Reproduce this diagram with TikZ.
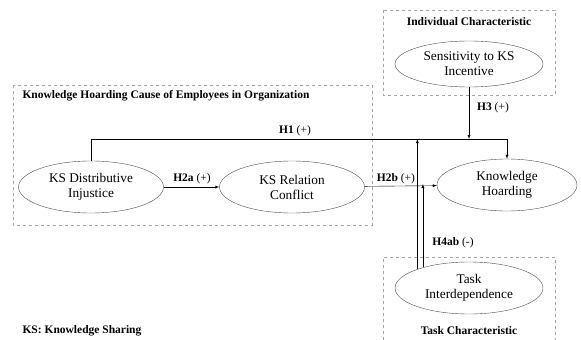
\documentclass[tikz,border=0pt]{standalone}
\usepackage{fontspec}
\setmainfont{Liberation Serif}
\usepackage{tikz}
\usetikzlibrary{shapes.geometric}

\begin{document}
\begin{tikzpicture}[x=1pt, y=-1pt, >=latex,
  construct/.style={ellipse, draw=black!70, align=center, inner sep=0pt,
    minimum width=145pt, minimum height=52pt, font=\fontsize{13.3}{15}\selectfont},
  group/.style={draw=black!35, dashed},
  grouptitle/.style={font=\fontsize{11.5}{13}\selectfont\bfseries},
  hyp/.style={font=\fontsize{11.5}{13}\selectfont}]
\useasboundingbox (0,0) rectangle (581,340);
% dashed groups
\draw[group] (13,85) rectangle (372,225);
\draw[group] (383,10) rectangle (555,95);
\draw[group] (383,340) -- (383,257) -- (555,257) -- (555,340);
\node[grouptitle, anchor=west] (causetitle) at (19,96) {Knowledge Hoarding Cause of Employees in Organization};
\node[grouptitle] (indtitle) at (469,22) {Individual Characteristic};
\node[grouptitle] (tasktitle) at (469,331) {Task Characteristic};
\node[grouptitle, anchor=west] (note) at (19,331) {KS: Knowledge Sharing};
% constructs
\node[construct] (dist) at (91,187) {KS Distributive\\Injustice};
\node[construct] (rel) at (292,187) {KS Relation\\Conflict};
\node[construct, minimum width=140pt] (kh) at (507,185) {Knowledge\\Hoarding};
\node[construct, minimum width=148pt, minimum height=46pt] (sens) at (469,64) {Sensitivity to KS\\Incentive};
\node[construct, minimum width=148pt] (task) at (469,288) {Task\\Interdependence};
\coordinate (h1line) at (0,139);
\coordinate (h2bline) at (0,186);
% paths
\draw[->] (dist.north) |- (h1line -| kh.north) -- (kh.north);
\draw[->] (dist) -- (rel);
\draw[->] (rel) -- (kh);
\draw[->] (sens.south) -- (sens.south |- h1line);
\draw[->] (task.160) -- (task.160 |- h1line);
\draw[->] (task.156) -- ([yshift=2pt]task.156 |- h2bline);
% labels
\node[hyp] (h1) at (295,131) {\textbf{H1} (+)};
\node[hyp] (h2a) at (192,179) {\textbf{H2a} (+)};
\node[hyp] (h2b) at (396,179) {\textbf{H2b} (+)};
\node[hyp] (h3) at (493,108) {\textbf{H3} (+)};
\node[hyp] (h4) at (453,243) {\textbf{H4ab} (-)};
\end{tikzpicture}
\end{document}
